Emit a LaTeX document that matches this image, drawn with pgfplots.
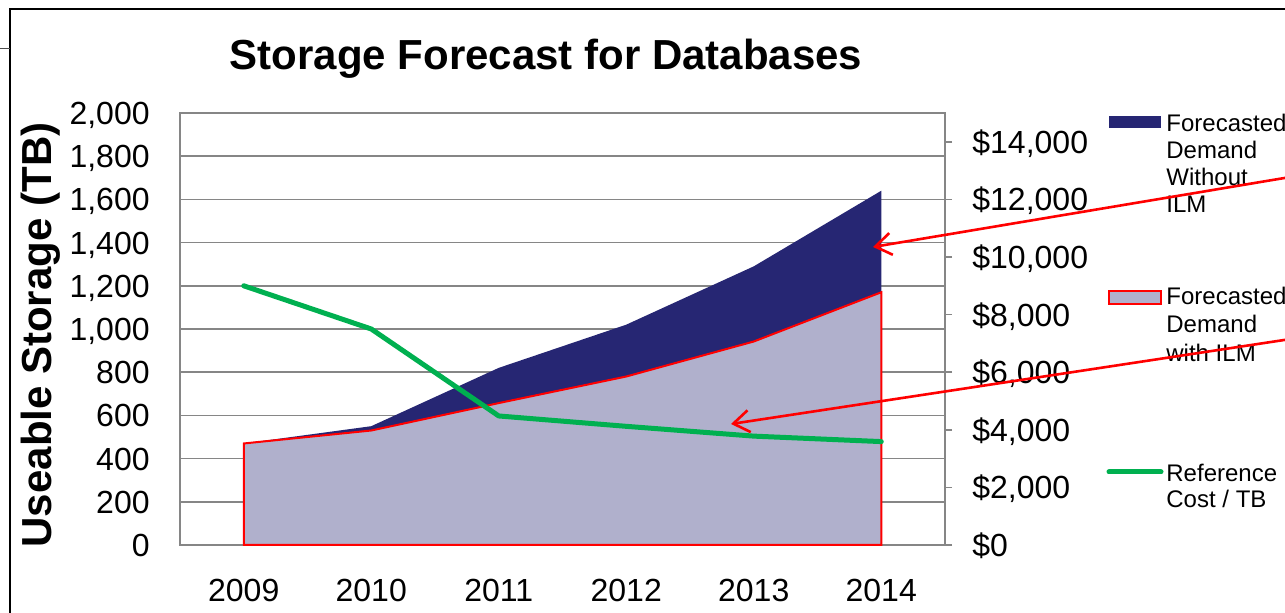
\documentclass[border=0pt]{standalone}
\usepackage{pgfplots}
\pgfplotsset{compat=1.18}
\usepackage{pgfplotstable}
\usepackage{fontspec}
\setmainfont{Liberation Sans}
\usetikzlibrary{arrows.meta}
\definecolor{navy}{RGB}{38,38,115}
\definecolor{lightp}{RGB}{176,176,204}
\definecolor{xlgreen}{RGB}{0,176,80}
\definecolor{axgray}{RGB}{134,134,134}

\pgfplotstableread{
x without with cost
0 470 470 9000
1 550 530 7500
2 820 657 4480
3 1020 780 4120
4 1290 942 3780
5 1640 1170 3590
}\datatable

\begin{document}
\begin{tikzpicture}
\useasboundingbox (0,0) rectangle (642.5pt,306.5pt);
% outer frame (partly visible)
\draw[line width=1pt] (5pt,-5pt) -- (5pt,302pt) -- (660pt,302pt);
\draw[line width=0.5pt,black!70] (0pt,282pt) -- (5pt,282pt);

\begin{axis}[
  at={(90pt,34pt)}, anchor=south west,
  scale only axis, width=382.5pt, height=216pt,
  xmin=-0.5, xmax=5.5, ymin=0, ymax=2000,
  xtick={0,...,5}, xticklabels={2009,2010,2011,2012,2013,2014},
  ytick={0,200,...,2000},
  axis line style={draw=axgray, line width=1pt},
  major tick length=0pt,
  ymajorgrids, grid style={draw=axgray, line width=0.8pt},
  scaled y ticks=false,
  /pgf/number format/.cd, 1000 sep={,}, assume math mode=true,
  /pgfplots/.cd,
  tick label style={font=\fontsize{16}{19}\selectfont, inner sep=0pt},
  xticklabel style={anchor=base, yshift=-28.5pt},
  yticklabel style={anchor=base east, xshift=-15pt, yshift=-5.75pt},
  clip=false,
]
\addplot[fill=navy, draw=none] table[x=x,y=without]{\datatable} \closedcycle;
\addplot[fill=lightp, draw=red, line width=1pt] table[x=x,y=with]{\datatable} \closedcycle;
\end{axis}

\begin{axis}[
  at={(90pt,34pt)}, anchor=south west,
  scale only axis, width=382.5pt, height=216pt,
  xmin=-0.5, xmax=5.5, ymin=0, ymax=15000,
  axis x line=none,
  axis y line*=right,
  ytick={0,2000,...,14000},
  scaled y ticks=false,
  axis line style={draw=axgray, line width=1pt, -},
  tick style={draw=axgray, line width=0.8pt},
  tick align=outside, major tick length=3.5pt,
  yticklabel={\$\pgfmathprintnumber{\tick}},
  /pgf/number format/.cd, 1000 sep={,}, assume math mode=true,
  /pgfplots/.cd,
  tick label style={font=\fontsize{16}{19}\selectfont, inner sep=0pt},
  yticklabel style={anchor=base west, xshift=10pt, yshift=-5.75pt},
  clip=false,
]
\addplot[xlgreen, line width=2.5pt, line join=round, line cap=round] table[x=x,y=cost]{\datatable};
\end{axis}

% title
\node[anchor=base, inner sep=0pt, font=\fontsize{21}{25}\selectfont\bfseries] at (273pt,271.5pt) {Storage Forecast for Databases};
% y label
\node[rotate=90, inner sep=0pt, font=\fontsize{21}{25}\selectfont\bfseries] at (20.5pt,139pt) {Useable Storage (TB)};

% legend
\begin{scope}[every node/.style={anchor=base west, inner sep=0pt, font=\fontsize{12}{14}\selectfont}]
\fill[navy] (554.5pt,242.5pt) rectangle (580.5pt,248.5pt);
\node at (583pt,240.5pt) {Forecasted};
\node at (583pt,227pt) {Demand};
\node at (583pt,213.5pt) {Without};
\node at (583pt,200pt) {ILM};
\filldraw[fill=lightp, draw=red, line width=0.8pt] (554.5pt,154.5pt) rectangle (580.5pt,161pt);
\node at (583pt,154pt) {Forecasted};
\node at (583pt,140pt) {Demand};
\node at (583pt,125.7pt) {with ILM};
\draw[xlgreen, line width=2.5pt, line cap=round] (554.5pt,70.5pt) -- (580.5pt,70.5pt);
\node at (583pt,65.5pt) {Reference};
\node at (583pt,52.5pt) {Cost / TB};
\end{scope}

% annotation arrows
\draw[red, line width=1.3pt, -{Straight Barb[length=8pt, width=11pt, line width=1.3pt]}] (650pt,218.8pt) -- (436.5pt,183pt);
\draw[red, line width=1.3pt, -{Straight Barb[length=8pt, width=11pt, line width=1.3pt]}] (650pt,137.7pt) -- (365.5pt,94.5pt);
\end{tikzpicture}
\end{document}
